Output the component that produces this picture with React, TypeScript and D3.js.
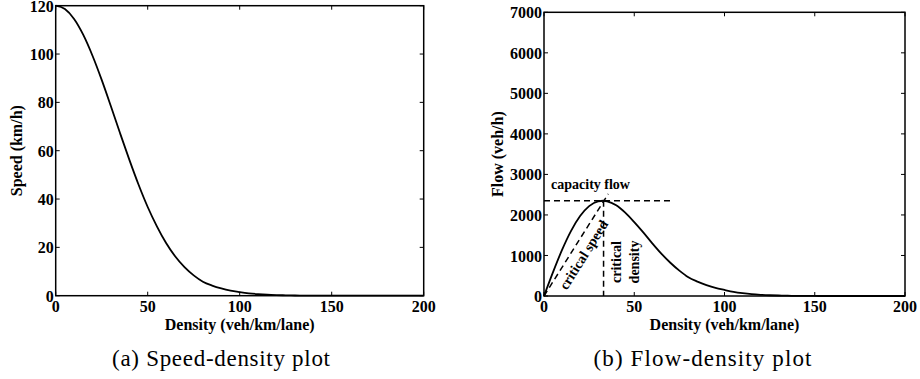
import React from 'react';
import * as d3 from 'd3';

// ---- data ----
const density = [0, 5, 10, 15, 20, 25, 30, 35, 40, 45, 50, 55, 60, 65, 70, 75, 80, 85, 90, 95, 100,
  105, 110, 115, 120, 125, 130, 135, 140, 145, 150, 155, 160, 165, 170, 175, 180, 185, 190, 195, 200];
const speed = [120, 118.6, 114.5, 107.9, 99.3, 89.3, 78.4, 67.2, 56.3, 46.0, 36.7, 28.7, 21.8, 16.2, 11.8,
  8.4, 5.8, 4.2, 3.0, 2.1, 1.5, 1.0, 0.65, 0.4, 0.25, 0.15, 0.09, 0.05, 0.03, 0, 0, 0, 0, 0, 0, 0, 0, 0, 0, 0, 0];

const flowDensity = [0, 5, 10, 15, 20, 25, 30, 33, 35, 40, 45, 50, 55, 60, 65, 70, 75, 80, 85, 90, 95, 100,
  105, 110, 115, 120, 125, 130, 135, 140, 145, 150, 155, 160, 165, 170, 175, 180, 185, 190, 195, 200];
const flow = [0, 589, 1138, 1608, 1973, 2218, 2337, 2350, 2337, 2238, 2057, 1823, 1569, 1300, 1046, 821,
  626, 461, 355, 268, 198, 149, 104, 71, 46, 30, 19, 12, 7, 4, 2, 1, 0, 0, 0, 0, 0, 0, 0, 0, 0, 0];

const densityTicks = [0, 50, 100, 150, 200];
const speedTicks = [0, 20, 40, 60, 80, 100, 120];
const flowTicks = [0, 1000, 2000, 3000, 4000, 5000, 6000, 7000];

const capacityFlow = 2350;
const criticalDensity = 33;
const capacityLineEnd = 70;
const criticalSpeedLineEnd = [35.6, 2520];
const capacityLabelPos = [3.9, 2640];
const criticalSpeedLabelPos = [24.2, 955];
const criticalLabelPos = [42.9, 839];
const densityLabelPos = [52.4, 839];

const FONT = 'Liberation Serif, Times New Roman, Times, serif';

type PanelProps = {
  x: d3.ScaleLinear<number, number>;
  y: d3.ScaleLinear<number, number>;
  xTicks: number[];
  yTicks: number[];
  xLabel: string;
  yLabel: string;
  yLabelX: number;
  caption: string;
  captionX: number;
  children?: React.ReactNode;
};

const boldStyle: React.CSSProperties = { fontFamily: FONT, fontWeight: 700, fontSize: '16px' };

function Panel({ x, y, xTicks, yTicks, xLabel, yLabel, yLabelX, caption, captionX, children }: PanelProps) {
  const [x0, x1] = x.range();
  const [y0, y1] = y.range();
  const tl = 4;
  return (
    <g>
      {children}
      <rect x={x0} y={y1} width={x1 - x0} height={y0 - y1} fill="none" stroke="#000" strokeWidth={1.5} />
      {xTicks.map((t) => (
        <g key={'xt' + t}>
          <line x1={x(t)} x2={x(t)} y1={y0} y2={y0 - tl} stroke="#000" strokeWidth={1} />
          <line x1={x(t)} x2={x(t)} y1={y1} y2={y1 + tl} stroke="#000" strokeWidth={1} />
          <text x={x(t)} y={312} textAnchor="middle" style={boldStyle}>{t}</text>
        </g>
      ))}
      {yTicks.map((t) => (
        <g key={'yt' + t}>
          <line x1={x0} x2={x0 + tl} y1={y(t)} y2={y(t)} stroke="#000" strokeWidth={1} />
          <line x1={x1} x2={x1 - tl} y1={y(t)} y2={y(t)} stroke="#000" strokeWidth={1} />
          <text x={x0 - 2} y={y(t)} dy="0.38em" textAnchor="end" style={boldStyle}>{t}</text>
        </g>
      ))}
      <text x={(x0 + x1) / 2} y={330} textAnchor="middle" style={boldStyle}>{xLabel}</text>
      <text transform={`translate(${yLabelX},${(y0 + y1) / 2}) rotate(-90)`} textAnchor="middle"
        style={boldStyle}>{yLabel}</text>
      <text x={captionX} y={366} textAnchor="middle" style={{ fontFamily: FONT, fontSize: '23px' }}
        textLength={218} lengthAdjust="spacing">{caption}</text>
    </g>
  );
}

export default function App() {
  const xL = d3.scaleLinear().domain([0, 200]).range([55.7, 423.7]);
  const yL = d3.scaleLinear().domain([0, 120]).range([295.7, 5.7]);
  const xR = d3.scaleLinear().domain([0, 200]).range([544, 905]);
  const yR = d3.scaleLinear().domain([0, 7000]).range([296, 12.3]);

  const speedLine = d3.line<number>()
    .x((_, i) => xL(density[i]))
    .y((d) => yL(d))
    .curve(d3.curveMonotoneX)(speed) || '';
  const flowLine = d3.line<number>()
    .x((_, i) => xR(flowDensity[i]))
    .y((d) => yR(d))
    .curve(d3.curveMonotoneX)(flow) || '';

  const dx = xR(criticalSpeedLineEnd[0]) - xR(0);
  const dy = yR(criticalSpeedLineEnd[1]) - yR(0);
  const angle = (Math.atan2(dy, dx) * 180) / Math.PI;

  const dash = '6,4';
  const annStyle: React.CSSProperties = { fontFamily: FONT, fontWeight: 700, fontSize: '14px' };

  return (
    <svg width={920} height={379} style={{ position: 'absolute', left: 0, top: 0, background: '#fff' }}>
      <rect x={0} y={0} width={920} height={379} fill="#fff" />
      <Panel x={xL} y={yL} xTicks={densityTicks} yTicks={speedTicks} xLabel="Density (veh/km/lane)"
        yLabel="Speed (km/h)" yLabelX={22} caption="(a) Speed-density plot" captionX={221}>
        <path d={speedLine} fill="none" stroke="#000" strokeWidth={1.8} />
      </Panel>
      <Panel x={xR} y={yR} xTicks={densityTicks} yTicks={flowTicks} xLabel="Density (veh/km/lane)"
        yLabel="Flow (veh/h)" yLabelX={503} caption="(b) Flow-density plot" captionX={702.5}>
        <path d={flowLine} fill="none" stroke="#000" strokeWidth={1.8} />
        <line x1={xR(0)} x2={xR(capacityLineEnd)} y1={yR(capacityFlow)} y2={yR(capacityFlow)}
          stroke="#000" strokeWidth={1.5} strokeDasharray={dash} />
        <line x1={xR(criticalDensity)} x2={xR(criticalDensity)} y1={yR(capacityFlow)} y2={yR(0)}
          stroke="#000" strokeWidth={1.5} strokeDasharray={dash} />
        <line x1={xR(0)} x2={xR(criticalSpeedLineEnd[0])} y1={yR(0)} y2={yR(criticalSpeedLineEnd[1])}
          stroke="#000" strokeWidth={1.5} strokeDasharray={dash} />
        <text x={xR(capacityLabelPos[0])} y={yR(capacityLabelPos[1])} style={annStyle}>capacity flow</text>
        <text transform={`translate(${xR(criticalSpeedLabelPos[0])},${yR(criticalSpeedLabelPos[1])}) rotate(${angle})`}
          textAnchor="middle" style={annStyle}>critical speed</text>
        <text transform={`translate(${xR(criticalLabelPos[0])},${yR(criticalLabelPos[1])}) rotate(-90)`}
          textAnchor="middle" style={annStyle}>critical</text>
        <text transform={`translate(${xR(densityLabelPos[0])},${yR(densityLabelPos[1])}) rotate(-90)`}
          textAnchor="middle" style={annStyle}>density</text>
      </Panel>
    </svg>
  );
}
